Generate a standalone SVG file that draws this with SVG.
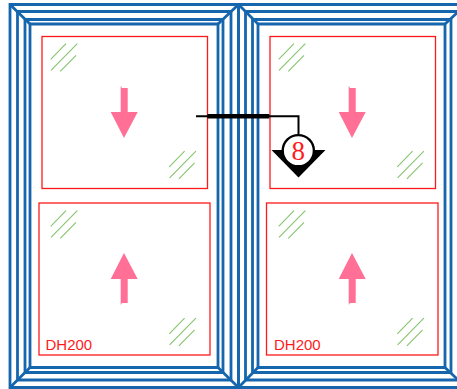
<svg xmlns="http://www.w3.org/2000/svg" xmlns:xlink="http://www.w3.org/1999/xlink" width="457" height="389" viewBox="0 0 457 389">
<style>
.f{fill:none;stroke:#1666ae;stroke-width:2.8}
.r{fill:#fff;stroke:#ff1a1a;stroke-width:1.3}
.g{fill:none;stroke:#86c46e;stroke-width:1.1}
.a{fill:#ff6f96}
.t{font-family:"Liberation Sans",Arial,sans-serif;font-size:15px;fill:#ff1a1a}
</style>
<defs>
<path id="hatch" class="g" d="M50.7 59.3L66 43.7M51 70.3L77.3 43.7M60.3 71.3L76 55.3"/>
<path id="down" class="a" d="M120.7 86L122 88H127.7V112H137.7L124 138L110.7 112H120.7Z"/>
</defs>
<rect width="457" height="389" fill="#fff"/>
<g id="frame-left">
<path class="f" d="M10 4.5H238.5V387.5H10Z"/>
<path class="f" d="M17.5 11.5H231V380H17.5Z"/>
<path class="f" d="M25 19.5H223V372.5H25Z"/>
<path class="f" d="M30 24H218V367.5H30Z"/>
<path class="f" d="M10 4.5L30 24M238.5 4.5L218 24M10 387.5L30 367.5M238.5 387.5L218 367.5"/>
</g>
<g id="frame-right">
<path class="f" d="M238.5 4.5H466V387.5H238.5Z"/>
<path class="f" d="M245.5 11.5H458.5V380H245.5Z"/>
<path class="f" d="M252.5 19.5H451V372.5H252.5Z"/>
<path class="f" d="M258 24H445V367.5H258Z"/>
<path class="f" d="M238.5 4.5L258 24M466 4.5L445 24M238.5 387.5L258 367.5M466 387.5L445 367.5"/>
</g>
<g id="pane-top-left">
<rect class="r" x="42" y="36.5" width="165.5" height="152"/>
<use xlink:href="#hatch"/>
<use xlink:href="#hatch" x="118.6" y="107.5"/>
<use xlink:href="#down"/>
</g>
<g id="pane-top-right">
<rect class="r" x="270" y="36.5" width="165.5" height="152"/>
<use xlink:href="#hatch" x="228"/>
<use xlink:href="#hatch" x="346.6" y="107.5"/>
<use xlink:href="#down" x="228"/>
</g>
<g id="pane-bottom-left">
<rect class="r" x="39" y="203" width="171" height="152"/>
<use xlink:href="#hatch" y="167"/>
<use xlink:href="#hatch" x="118.6" y="274.5"/>
<use xlink:href="#down" transform="matrix(1 0 0 -1 0 391)"/>
<text class="t" x="45.5" y="350">DH200</text>
</g>
<g id="pane-bottom-right">
<rect class="r" x="266.5" y="203" width="171.5" height="152"/>
<use xlink:href="#hatch" x="228" y="167"/>
<use xlink:href="#hatch" x="346.6" y="274.5"/>
<use xlink:href="#down" transform="matrix(1 0 0 -1 228 391)"/>
<text class="t" x="274" y="350">DH200</text>
</g>
<g id="connectors">
<path d="M196 116.2H298.5V134" fill="none" stroke="#000" stroke-width="2"/>
<path d="M207.5 116.2H269.3" fill="none" stroke="#000" stroke-width="4.6"/>
</g>
<g id="marker-8">
<path d="M271.5 150H325.5L298.5 177.5Z" fill="#000"/>
<circle cx="298.3" cy="150.7" r="15.6" fill="#fff" stroke="#000" stroke-width="2.4"/>
<text x="298.3" y="160" text-anchor="middle" font-family="'Liberation Serif','Times New Roman',serif" font-size="27" fill="#ff1a1a">8</text>
</g>
</svg>
